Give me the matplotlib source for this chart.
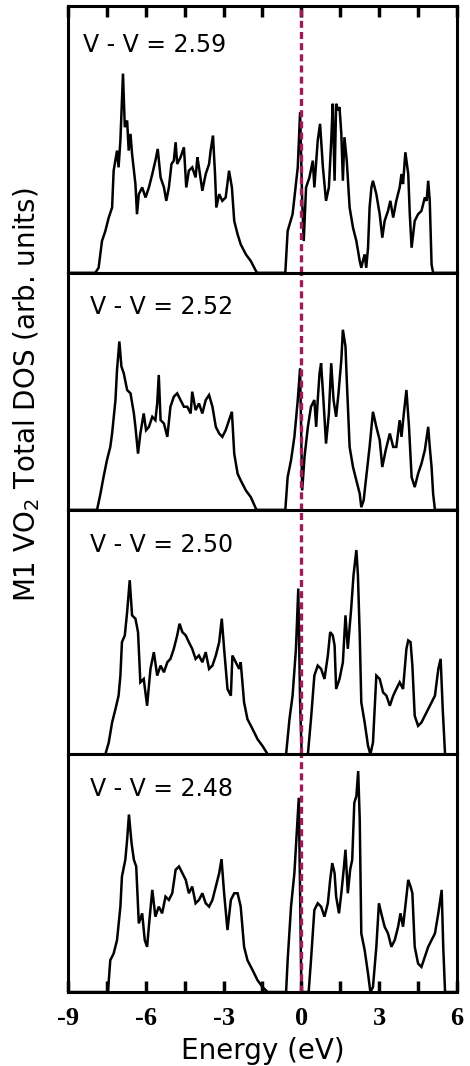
import matplotlib
matplotlib.use("Agg")
import matplotlib.pyplot as plt
import numpy as np

# total DOS of M1 VO2 for four V-V dimer lengths, (energy in eV, DOS in arb. units)
dos_259 = [(-9.0, 0), (-7.95, 0), (-7.82, 15), (-7.69, 95), (-7.56, 125), (-7.43, 165),
           (-7.30, 195), (-7.24, 305), (-7.11, 365), (-7.05, 315), (-6.98, 395), (-6.88, 595),
           (-6.81, 435), (-6.72, 455), (-6.66, 365), (-6.59, 415), (-6.53, 355), (-6.40, 265),
           (-6.34, 175), (-6.27, 235), (-6.14, 255), (-6.01, 225), (-5.88, 255), (-5.75, 295),
           (-5.63, 335), (-5.54, 370), (-5.43, 285), (-5.30, 255), (-5.21, 215), (-5.11, 255),
           (-5.01, 325), (-4.92, 335), (-4.85, 390), (-4.79, 325), (-4.66, 345), (-4.53, 375),
           (-4.44, 255), (-4.34, 305), (-4.21, 315), (-4.08, 285), (-4.01, 345), (-3.95, 315),
           (-3.82, 245), (-3.69, 295), (-3.56, 325), (-3.50, 365), (-3.41, 410), (-3.33, 295),
           (-3.28, 195), (-3.17, 235), (-3.05, 215), (-2.92, 225), (-2.79, 305), (-2.68, 255),
           (-2.59, 155), (-2.46, 115), (-2.34, 85), (-2.14, 55), (-1.95, 35), (-1.75, 5),
           (-1.70, 0), (-0.62, 0), (-0.53, 125), (-0.34, 175), (-0.14, 315), (-0.05, 480),
           (0.03, 215), (0.09, 95), (0.18, 255), (0.31, 285), (0.44, 335), (0.50, 255),
           (0.63, 395), (0.72, 445), (0.83, 315), (0.95, 215), (1.06, 255), (1.15, 395),
           (1.21, 505), (1.28, 275), (1.34, 505), (1.41, 485), (1.47, 495), (1.54, 415),
           (1.60, 275), (1.66, 405), (1.75, 335), (1.86, 195), (1.99, 135), (2.12, 95),
           (2.25, 35), (2.31, 15), (2.37, 35), (2.44, 55), (2.50, 15), (2.57, 75),
           (2.63, 195), (2.70, 255), (2.76, 275), (2.89, 235), (3.02, 175), (3.12, 105),
           (3.21, 155), (3.34, 185), (3.43, 215), (3.54, 165), (3.66, 215), (3.79, 255),
           (3.86, 295), (3.92, 265), (4.01, 360), (4.12, 295), (4.18, 175), (4.25, 75),
           (4.37, 155), (4.50, 175), (4.63, 185), (4.76, 225), (4.83, 215), (4.89, 275),
           (4.95, 215), (5.02, 25), (5.08, 0), (6.0, 0)]

dos_252 = [(-9.0, 0), (-7.88, 0), (-7.75, 48), (-7.63, 98), (-7.50, 148), (-7.37, 188),
           (-7.30, 228), (-7.17, 328), (-7.11, 418), (-7.02, 503), (-6.94, 428), (-6.85, 408),
           (-6.72, 358), (-6.59, 348), (-6.46, 288), (-6.40, 248), (-6.30, 168), (-6.21, 228),
           (-6.08, 288), (-5.99, 238), (-5.88, 248), (-5.75, 278), (-5.63, 268), (-5.56, 318),
           (-5.50, 403), (-5.43, 268), (-5.30, 258), (-5.17, 218), (-5.05, 308), (-4.92, 338),
           (-4.79, 348), (-4.66, 328), (-4.53, 308), (-4.40, 308), (-4.27, 288), (-4.21, 353),
           (-4.08, 298), (-3.95, 318), (-3.82, 288), (-3.69, 328), (-3.56, 343), (-3.43, 308),
           (-3.30, 248), (-3.17, 228), (-3.05, 218), (-2.92, 238), (-2.79, 268), (-2.68, 293),
           (-2.59, 168), (-2.46, 108), (-2.34, 88), (-2.14, 58), (-1.95, 38), (-1.75, 3),
           (-1.70, 0), (-0.62, 0), (-0.53, 98), (-0.40, 148), (-0.27, 218), (-0.14, 328),
           (-0.05, 423), (0.03, 58), (0.12, 158), (0.25, 248), (0.37, 308), (0.50, 328),
           (0.57, 248), (0.63, 328), (0.70, 408), (0.76, 438), (0.85, 328), (0.95, 198),
           (1.06, 288), (1.15, 438), (1.24, 328), (1.34, 278), (1.43, 348), (1.54, 448),
           (1.60, 538), (1.70, 488), (1.75, 388), (1.86, 188), (1.99, 128), (2.12, 88),
           (2.25, 48), (2.31, 8), (2.40, 28), (2.50, 98), (2.63, 188), (2.76, 293),
           (2.89, 248), (3.02, 208), (3.12, 128), (3.25, 178), (3.41, 228), (3.54, 188),
           (3.66, 188), (3.79, 268), (3.86, 218), (3.95, 288), (4.05, 358), (4.15, 248),
           (4.25, 98), (4.37, 68), (4.50, 108), (4.63, 138), (4.76, 178), (4.89, 248),
           (4.95, 188), (5.02, 128), (5.08, 48), (5.15, 0), (6.0, 0)]

dos_250 = [(-9.0, 0), (-7.56, 0), (-7.43, 35), (-7.30, 95), (-7.17, 135), (-7.05, 175),
           (-6.98, 235), (-6.92, 335), (-6.81, 355), (-6.72, 425), (-6.62, 520), (-6.53, 415),
           (-6.40, 405), (-6.30, 365), (-6.21, 215), (-6.08, 225), (-5.95, 145), (-5.82, 255),
           (-5.69, 305), (-5.56, 235), (-5.43, 265), (-5.30, 245), (-5.17, 275), (-5.05, 285),
           (-4.92, 315), (-4.79, 355), (-4.70, 390), (-4.59, 365), (-4.46, 355), (-4.34, 335),
           (-4.21, 315), (-4.08, 285), (-3.95, 295), (-3.82, 275), (-3.69, 305), (-3.56, 255),
           (-3.43, 265), (-3.30, 295), (-3.17, 335), (-3.07, 405), (-2.98, 315), (-2.85, 195),
           (-2.72, 175), (-2.66, 295), (-2.53, 275), (-2.40, 255), (-2.34, 275), (-2.21, 155),
           (-2.08, 105), (-1.88, 75), (-1.69, 45), (-1.50, 25), (-1.30, 0), (-0.59, 0),
           (-0.46, 105), (-0.34, 175), (-0.21, 315), (-0.12, 495), (-0.05, 155), (0.01, 0),
           (0.25, 0), (0.37, 105), (0.50, 235), (0.63, 265), (0.76, 255), (0.89, 225),
           (1.02, 295), (1.11, 365), (1.21, 355), (1.28, 325), (1.34, 195), (1.47, 225),
           (1.60, 275), (1.70, 415), (1.79, 315), (1.92, 435), (2.01, 535), (2.12, 610),
           (2.18, 535), (2.25, 355), (2.31, 155), (2.44, 95), (2.57, 25), (2.66, 0),
           (2.76, 35), (2.89, 235), (3.02, 225), (3.15, 185), (3.28, 175), (3.41, 145),
           (3.54, 175), (3.66, 195), (3.79, 215), (3.92, 195), (4.05, 315), (4.12, 340),
           (4.21, 335), (4.28, 265), (4.37, 115), (4.50, 85), (4.63, 95), (4.76, 115),
           (4.89, 135), (5.02, 155), (5.15, 175), (5.28, 255), (5.37, 285), (5.45, 135),
           (5.54, 0), (6.0, 0)]

dos_248 = [(-9.0, 0), (-7.46, 0), (-7.37, 95), (-7.24, 115), (-7.11, 155), (-6.98, 255),
           (-6.92, 345), (-6.79, 395), (-6.72, 455), (-6.65, 530), (-6.55, 445), (-6.46, 395),
           (-6.37, 375), (-6.27, 205), (-6.14, 235), (-6.04, 155), (-5.95, 135), (-5.86, 215),
           (-5.75, 305), (-5.63, 225), (-5.50, 255), (-5.37, 235), (-5.24, 285), (-5.11, 275),
           (-4.98, 295), (-4.85, 365), (-4.72, 375), (-4.59, 355), (-4.46, 335), (-4.34, 295),
           (-4.21, 315), (-4.08, 265), (-3.95, 275), (-3.82, 295), (-3.69, 265), (-3.56, 255),
           (-3.43, 275), (-3.30, 315), (-3.17, 355), (-3.08, 397), (-2.98, 295), (-2.85, 185),
           (-2.72, 275), (-2.59, 295), (-2.46, 295), (-2.34, 255), (-2.21, 135), (-2.08, 95),
           (-1.88, 65), (-1.69, 35), (-1.50, 15), (-1.30, 0), (-0.59, 0), (-0.53, 95),
           (-0.40, 255), (-0.27, 355), (-0.18, 475), (-0.10, 580), (-0.05, 295), (0.00, 0),
           (0.28, 0), (0.37, 95), (0.50, 245), (0.63, 265), (0.76, 255), (0.89, 225),
           (1.02, 265), (1.11, 335), (1.19, 385), (1.28, 355), (1.34, 285), (1.45, 235),
           (1.54, 295), (1.63, 365), (1.70, 425), (1.79, 295), (1.88, 365), (1.96, 395),
           (2.04, 565), (2.12, 585), (2.19, 660), (2.25, 515), (2.31, 175), (2.44, 125),
           (2.57, 55), (2.66, 0), (2.76, 15), (2.89, 135), (2.99, 265), (3.08, 235),
           (3.21, 195), (3.34, 175), (3.47, 135), (3.60, 155), (3.73, 195), (3.82, 235),
           (3.92, 195), (4.05, 285), (4.12, 335), (4.21, 315), (4.28, 295), (4.37, 135),
           (4.50, 85), (4.63, 75), (4.76, 105), (4.89, 135), (5.02, 155), (5.15, 175),
           (5.28, 235), (5.41, 305), (5.47, 135), (5.54, 0), (6.0, 0)]

vv_labels = ["V - V = 2.59", "V - V = 2.52", "V - V = 2.50", "V - V = 2.48"]
dos_max = [797, 708, 730, 710]
tick_values = [-9, -6, -3, 0, 3, 6]
tick_labels = ["-9", "-6", "-3", "0", "3", "6"]
minor_values = [-7.5, -4.5, -1.5, 1.5, 4.5]

fermi_color = "#a01a58"

fig = plt.figure(figsize=(4.7, 10.66), dpi=100)
gs = fig.add_gridspec(4, 1, height_ratios=dos_max, hspace=0,
                      left=0.1447, right=0.9723, top=0.9944, bottom=0.0694)

label_x = [0.038, 0.057, 0.057, 0.057]
all_dos = [dos_259, dos_252, dos_250, dos_248]

for i, pts in enumerate(all_dos):
  ax = fig.add_subplot(gs[i])
  e, d = np.array(pts).T
  ax.plot(e, d, color="black", lw=1.8, solid_joinstyle="miter")
  ax.axvline(0, color=fermi_color, lw=2.4, ls=(0, (2.1, 1.25)))
  ax.set_xlim(-9, 6)
  ax.set_ylim(0, dos_max[i])
  ax.set_yticks([])
  ax.text(label_x[i], 0.855, vv_labels[i], transform=ax.transAxes,
          fontsize=17, va="center", ha="left")
  for s in ax.spines.values():
    s.set_linewidth(2.2)

  ax.set_xticks(tick_values)
  ax.set_xticks(minor_values, minor=True)
  ax.tick_params(axis="x", which="both", direction="in", length=8, width=2.5)
  if i == 0:
    ax.tick_params(axis="x", which="both", top=True, bottom=False,
                   labeltop=False, labelbottom=False)
  elif i == 3:
    ax.set_xticklabels(tick_labels, fontfamily="Liberation Serif",
                       fontweight="bold", fontsize=19)
    ax.tick_params(axis="x", which="major", pad=11)
    ax.set_xlabel("Energy (eV)", fontsize=20, labelpad=5)
  else:
    ax.tick_params(axis="x", which="both", bottom=False, labelbottom=False)

fig.text(0.057, 0.630, "M1 VO$_2$ Total DOS (arb. units)", rotation=90,
         fontsize=20, va="center", ha="center")

fig.savefig("out.png", dpi=100)
